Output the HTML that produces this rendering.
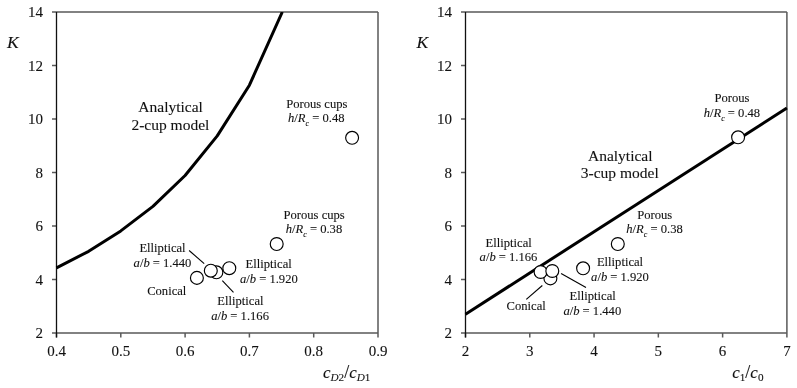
<!DOCTYPE html>
<html><head><meta charset="utf-8"><style>
html,body{margin:0;padding:0;background:#fff;}
svg{display:block;will-change:transform;}
text{font-family:"Liberation Serif",serif;fill:#111;stroke:#111;stroke-width:0.1px;}
</style></head><body>
<svg width="797" height="388" viewBox="0 0 797 388">
<defs><clipPath id="c1"><rect x="50" y="12" width="330" height="330"/></clipPath></defs>
<rect width="797" height="388" fill="#fff"/>
<line x1="52.00" y1="12.00" x2="378.00" y2="12.00" stroke="#595959" stroke-width="1.5" />
<line x1="378.00" y1="12.00" x2="378.00" y2="333.00" stroke="#595959" stroke-width="1.5" />
<line x1="52.00" y1="333.00" x2="378.00" y2="333.00" stroke="#595959" stroke-width="1.5" />
<line x1="52.00" y1="279.50" x2="56.50" y2="279.50" stroke="#595959" stroke-width="1.5" />
<line x1="52.00" y1="226.00" x2="56.50" y2="226.00" stroke="#595959" stroke-width="1.5" />
<line x1="52.00" y1="172.50" x2="56.50" y2="172.50" stroke="#595959" stroke-width="1.5" />
<line x1="52.00" y1="119.00" x2="56.50" y2="119.00" stroke="#595959" stroke-width="1.5" />
<line x1="52.00" y1="65.50" x2="56.50" y2="65.50" stroke="#595959" stroke-width="1.5" />
<line x1="56.50" y1="333.00" x2="56.50" y2="337.50" stroke="#595959" stroke-width="1.5" />
<line x1="120.80" y1="333.00" x2="120.80" y2="337.50" stroke="#595959" stroke-width="1.5" />
<line x1="185.10" y1="333.00" x2="185.10" y2="337.50" stroke="#595959" stroke-width="1.5" />
<line x1="249.40" y1="333.00" x2="249.40" y2="337.50" stroke="#595959" stroke-width="1.5" />
<line x1="313.70" y1="333.00" x2="313.70" y2="337.50" stroke="#595959" stroke-width="1.5" />
<line x1="378.00" y1="333.00" x2="378.00" y2="337.50" stroke="#595959" stroke-width="1.5" />
<line x1="56.50" y1="12.00" x2="56.50" y2="337.50" stroke="#111" stroke-width="1.3" />
<text x="43.00" y="338.20" font-size="15" text-anchor="end" >2</text>
<text x="43.00" y="284.70" font-size="15" text-anchor="end" >4</text>
<text x="43.00" y="231.20" font-size="15" text-anchor="end" >6</text>
<text x="43.00" y="177.70" font-size="15" text-anchor="end" >8</text>
<text x="43.00" y="124.20" font-size="15" text-anchor="end" >10</text>
<text x="43.00" y="70.70" font-size="15" text-anchor="end" >12</text>
<text x="43.00" y="17.20" font-size="15" text-anchor="end" >14</text>
<text x="56.50" y="356.00" font-size="15" text-anchor="middle" >0.4</text>
<text x="120.80" y="356.00" font-size="15" text-anchor="middle" >0.5</text>
<text x="185.10" y="356.00" font-size="15" text-anchor="middle" >0.6</text>
<text x="249.40" y="356.00" font-size="15" text-anchor="middle" >0.7</text>
<text x="313.70" y="356.00" font-size="15" text-anchor="middle" >0.8</text>
<text x="378.00" y="356.00" font-size="15" text-anchor="middle" >0.9</text>
<polyline points="56.50,267.80 88.65,251.30 120.80,230.90 152.95,206.40 185.10,175.50 217.25,135.90 249.40,85.20 282.30,12.00" fill="none" stroke="#000" stroke-width="3" stroke-linejoin="round" clip-path="url(#c1)"/>
<line x1="189.10" y1="250.50" x2="204.20" y2="263.60" stroke="#000" stroke-width="1.1" />
<line x1="222.30" y1="280.70" x2="233.50" y2="292.40" stroke="#000" stroke-width="1.1" />
<circle cx="196.90" cy="277.90" r="6.45" fill="#fff" stroke="#000" stroke-width="1.15"/>
<circle cx="216.40" cy="272.30" r="6.45" fill="#fff" stroke="#000" stroke-width="1.15"/>
<circle cx="210.80" cy="270.70" r="6.45" fill="#fff" stroke="#000" stroke-width="1.15"/>
<circle cx="229.30" cy="268.20" r="6.45" fill="#fff" stroke="#000" stroke-width="1.15"/>
<circle cx="276.70" cy="244.00" r="6.45" fill="#fff" stroke="#000" stroke-width="1.15"/>
<circle cx="352.10" cy="137.80" r="6.45" fill="#fff" stroke="#000" stroke-width="1.15"/>
<line x1="461.00" y1="12.00" x2="786.90" y2="12.00" stroke="#595959" stroke-width="1.5" />
<line x1="786.90" y1="12.00" x2="786.90" y2="333.00" stroke="#595959" stroke-width="1.5" />
<line x1="461.00" y1="333.00" x2="786.90" y2="333.00" stroke="#595959" stroke-width="1.5" />
<line x1="461.00" y1="279.50" x2="465.50" y2="279.50" stroke="#595959" stroke-width="1.5" />
<line x1="461.00" y1="226.00" x2="465.50" y2="226.00" stroke="#595959" stroke-width="1.5" />
<line x1="461.00" y1="172.50" x2="465.50" y2="172.50" stroke="#595959" stroke-width="1.5" />
<line x1="461.00" y1="119.00" x2="465.50" y2="119.00" stroke="#595959" stroke-width="1.5" />
<line x1="461.00" y1="65.50" x2="465.50" y2="65.50" stroke="#595959" stroke-width="1.5" />
<line x1="465.50" y1="333.00" x2="465.50" y2="337.50" stroke="#595959" stroke-width="1.5" />
<line x1="529.78" y1="333.00" x2="529.78" y2="337.50" stroke="#595959" stroke-width="1.5" />
<line x1="594.06" y1="333.00" x2="594.06" y2="337.50" stroke="#595959" stroke-width="1.5" />
<line x1="658.34" y1="333.00" x2="658.34" y2="337.50" stroke="#595959" stroke-width="1.5" />
<line x1="722.62" y1="333.00" x2="722.62" y2="337.50" stroke="#595959" stroke-width="1.5" />
<line x1="786.90" y1="333.00" x2="786.90" y2="337.50" stroke="#595959" stroke-width="1.5" />
<line x1="465.50" y1="12.00" x2="465.50" y2="337.50" stroke="#111" stroke-width="1.3" />
<text x="452.00" y="338.20" font-size="15" text-anchor="end" >2</text>
<text x="452.00" y="284.70" font-size="15" text-anchor="end" >4</text>
<text x="452.00" y="231.20" font-size="15" text-anchor="end" >6</text>
<text x="452.00" y="177.70" font-size="15" text-anchor="end" >8</text>
<text x="452.00" y="124.20" font-size="15" text-anchor="end" >10</text>
<text x="452.00" y="70.70" font-size="15" text-anchor="end" >12</text>
<text x="452.00" y="17.20" font-size="15" text-anchor="end" >14</text>
<text x="465.50" y="356.00" font-size="15" text-anchor="middle" >2</text>
<text x="529.78" y="356.00" font-size="15" text-anchor="middle" >3</text>
<text x="594.06" y="356.00" font-size="15" text-anchor="middle" >4</text>
<text x="658.34" y="356.00" font-size="15" text-anchor="middle" >5</text>
<text x="722.62" y="356.00" font-size="15" text-anchor="middle" >6</text>
<text x="786.90" y="356.00" font-size="15" text-anchor="middle" >7</text>
<line x1="465.5" y1="314.2" x2="786.9" y2="108" stroke="#000" stroke-width="3"/>
<line x1="526.30" y1="299.40" x2="542.30" y2="285.50" stroke="#000" stroke-width="1.1" />
<line x1="561.10" y1="273.60" x2="586.00" y2="287.60" stroke="#000" stroke-width="1.1" />
<circle cx="550.40" cy="278.40" r="6.45" fill="#fff" stroke="#000" stroke-width="1.15"/>
<circle cx="540.60" cy="272.00" r="6.45" fill="#fff" stroke="#000" stroke-width="1.15"/>
<circle cx="552.30" cy="271.00" r="6.45" fill="#fff" stroke="#000" stroke-width="1.15"/>
<circle cx="583.10" cy="268.30" r="6.45" fill="#fff" stroke="#000" stroke-width="1.15"/>
<circle cx="617.80" cy="244.00" r="6.45" fill="#fff" stroke="#000" stroke-width="1.15"/>
<circle cx="738.10" cy="137.30" r="6.45" fill="#fff" stroke="#000" stroke-width="1.15"/>
<text x="170.60" y="112.40" font-size="15.5" text-anchor="middle">Analytical</text>
<text x="170.40" y="129.80" font-size="15.5" text-anchor="middle">2-cup model</text>
<text x="316.80" y="107.60" font-size="12.6" text-anchor="middle">Porous cups</text>
<text x="316.25" y="122.20" font-size="12.6" text-anchor="middle"><tspan font-style="italic">h</tspan>/<tspan font-style="italic">R</tspan><tspan font-style="italic" font-size="8" dy="4">c</tspan><tspan dy="-4"> = 0.48</tspan></text>
<text x="314.15" y="218.50" font-size="12.6" text-anchor="middle">Porous cups</text>
<text x="313.95" y="232.80" font-size="12.6" text-anchor="middle"><tspan font-style="italic">h</tspan>/<tspan font-style="italic">R</tspan><tspan font-style="italic" font-size="8" dy="4">c</tspan><tspan dy="-4"> = 0.38</tspan></text>
<text x="162.50" y="251.70" font-size="12.6" text-anchor="middle">Elliptical</text>
<text x="162.50" y="266.70" font-size="12.6" text-anchor="middle"><tspan font-style="italic">a</tspan>/<tspan font-style="italic">b</tspan> = 1.440</text>
<text x="166.75" y="295.30" font-size="12.6" text-anchor="middle">Conical</text>
<text x="268.65" y="268.40" font-size="12.6" text-anchor="middle">Elliptical</text>
<text x="268.85" y="282.50" font-size="12.6" text-anchor="middle"><tspan font-style="italic">a</tspan>/<tspan font-style="italic">b</tspan> = 1.920</text>
<text x="240.40" y="304.70" font-size="12.6" text-anchor="middle">Elliptical</text>
<text x="240.05" y="319.60" font-size="12.6" text-anchor="middle"><tspan font-style="italic">a</tspan>/<tspan font-style="italic">b</tspan> = 1.166</text>
<text x="620.25" y="160.70" font-size="15.5" text-anchor="middle">Analytical</text>
<text x="619.80" y="178.00" font-size="15.5" text-anchor="middle">3-cup model</text>
<text x="731.90" y="101.80" font-size="12.6" text-anchor="middle">Porous</text>
<text x="731.90" y="116.50" font-size="12.6" text-anchor="middle"><tspan font-style="italic">h</tspan>/<tspan font-style="italic">R</tspan><tspan font-style="italic" font-size="8" dy="4">c</tspan><tspan dy="-4"> = 0.48</tspan></text>
<text x="654.75" y="218.50" font-size="12.6" text-anchor="middle">Porous</text>
<text x="654.50" y="232.80" font-size="12.6" text-anchor="middle"><tspan font-style="italic">h</tspan>/<tspan font-style="italic">R</tspan><tspan font-style="italic" font-size="8" dy="4">c</tspan><tspan dy="-4"> = 0.38</tspan></text>
<text x="508.65" y="246.60" font-size="12.6" text-anchor="middle">Elliptical</text>
<text x="508.50" y="261.20" font-size="12.6" text-anchor="middle"><tspan font-style="italic">a</tspan>/<tspan font-style="italic">b</tspan> = 1.166</text>
<text x="526.15" y="310.00" font-size="12.6" text-anchor="middle">Conical</text>
<text x="592.70" y="300.20" font-size="12.6" text-anchor="middle">Elliptical</text>
<text x="592.30" y="315.20" font-size="12.6" text-anchor="middle"><tspan font-style="italic">a</tspan>/<tspan font-style="italic">b</tspan> = 1.440</text>
<text x="620.00" y="265.60" font-size="12.6" text-anchor="middle">Elliptical</text>
<text x="620.00" y="280.60" font-size="12.6" text-anchor="middle"><tspan font-style="italic">a</tspan>/<tspan font-style="italic">b</tspan> = 1.920</text>
<text x="12.8" y="47.8" font-size="17.5" font-style="italic" text-anchor="middle">K</text>
<text x="422.4" y="47.8" font-size="17.5" font-style="italic" text-anchor="middle">K</text>
<text y="377.6" font-size="17"><tspan x="322.9" font-style="italic">c</tspan><tspan font-style="italic" font-size="11.2" dy="3.8">D</tspan><tspan font-size="11.2">2</tspan><tspan dy="-3.8" font-size="18">/</tspan><tspan font-style="italic">c</tspan><tspan font-style="italic" font-size="11.2" dy="3.8">D</tspan><tspan font-size="11.2">1</tspan></text>
<text y="377.6" font-size="17"><tspan x="732.2" font-style="italic">c</tspan><tspan font-size="11.2" dy="3.8">1</tspan><tspan dy="-3.8" font-size="18">/</tspan><tspan font-style="italic">c</tspan><tspan font-size="11.2" dy="3.8">0</tspan></text>
</svg>
</body></html>
